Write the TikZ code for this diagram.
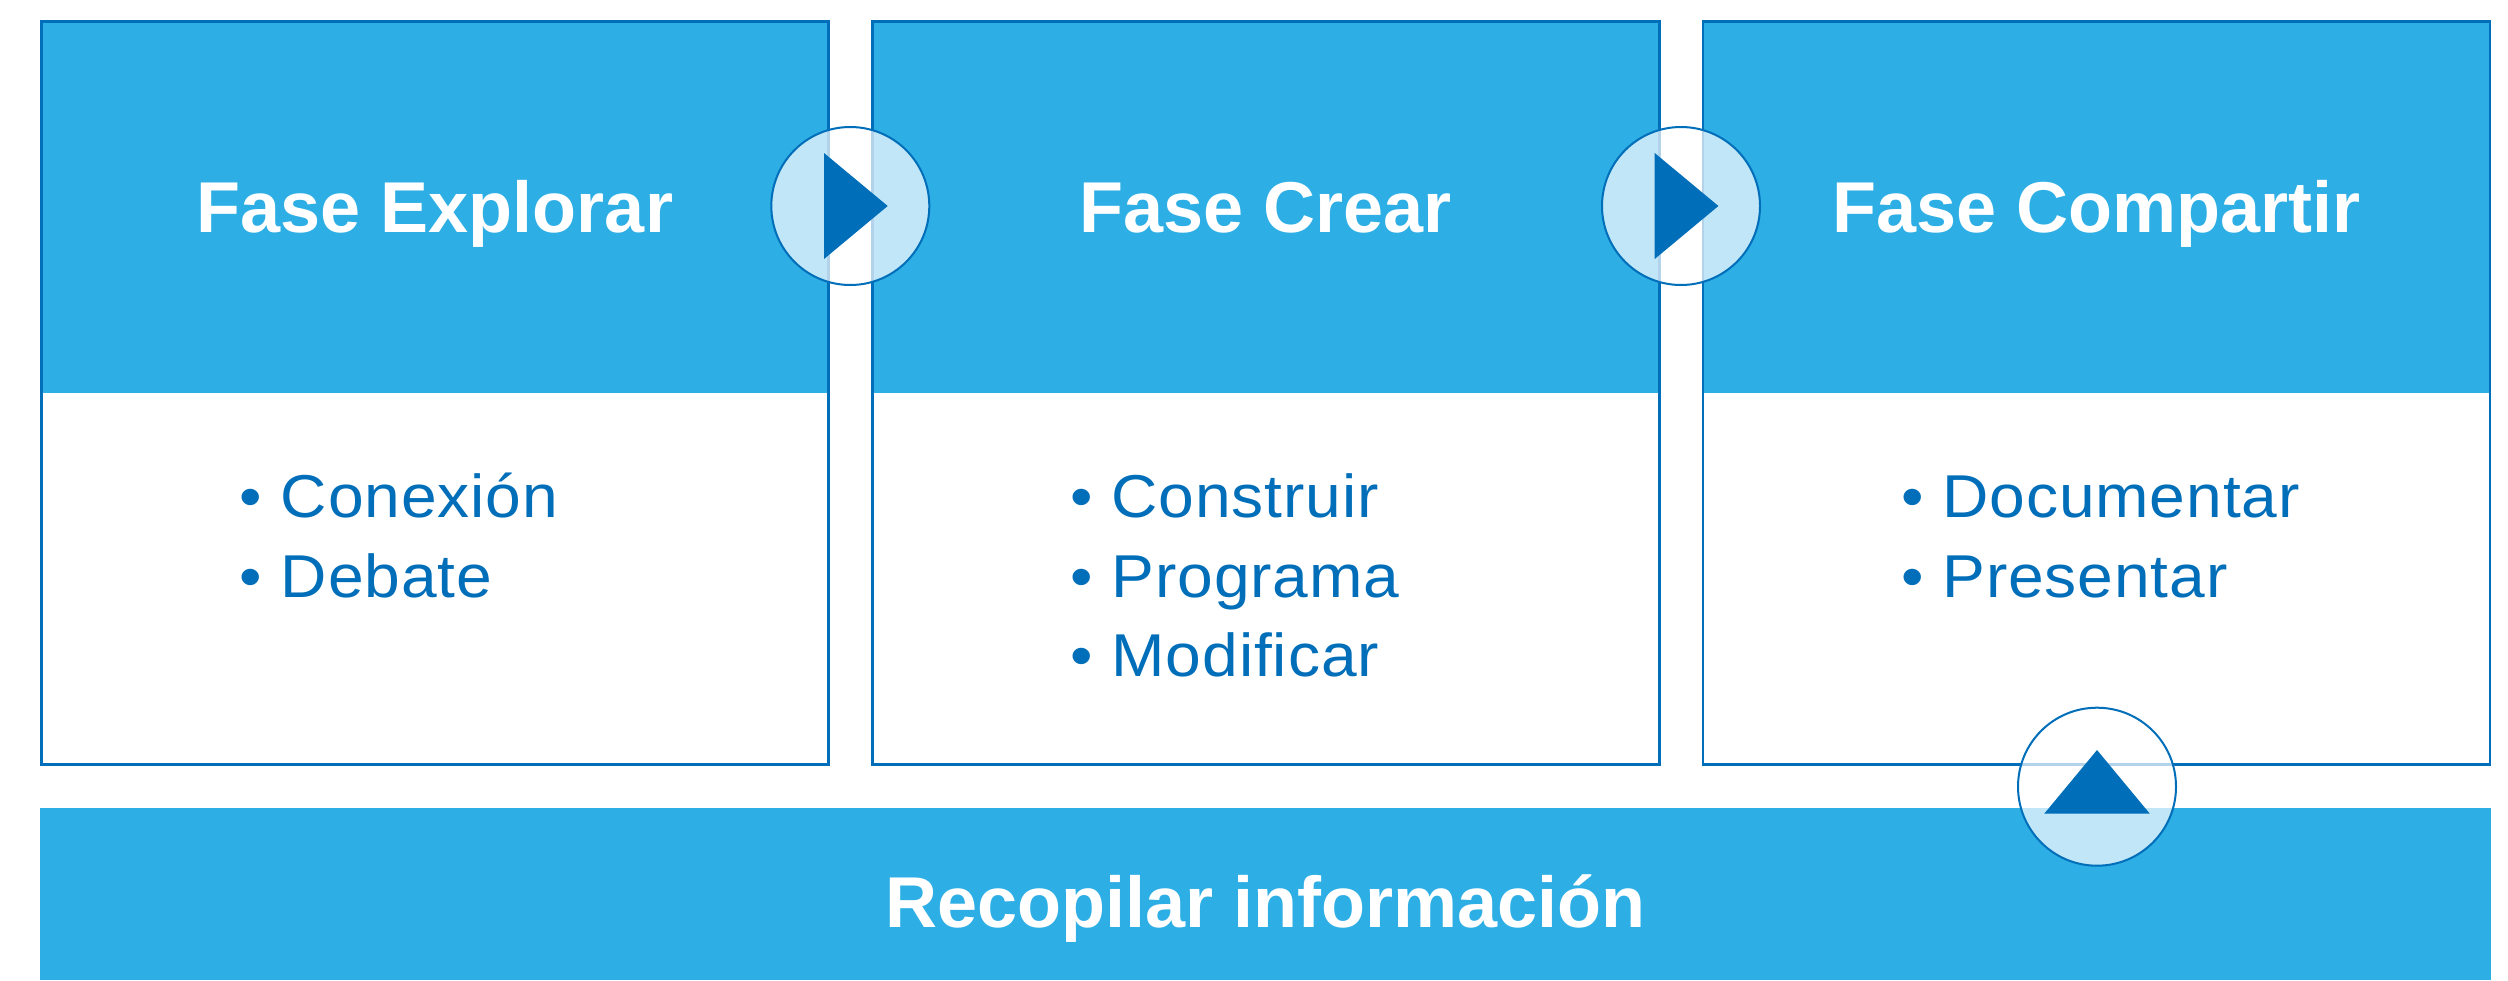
\documentclass[tikz,border=0pt]{standalone}
\usepackage{fontspec}
\setmainfont{Liberation Sans}
\newfontfamily\bodyfont{Liberation Sans}[FakeStretch=1.06, LetterSpace=1.5]
\definecolor{lblue}{RGB}{45,174,229}
\definecolor{dblue}{RGB}{0,110,185}
\tikzset{
  phasebox/.style={rectangle, draw=dblue, line width=2.7pt, fill=white, inner sep=0pt, outer sep=0pt, minimum width=787pt, minimum height=743pt, anchor=north west},
  headbox/.style={rectangle, fill=lblue, inner sep=0pt, outer sep=0pt, minimum width=787pt, minimum height=371.5pt, anchor=north west},
  bottombar/.style={rectangle, fill=lblue, inner sep=0pt, outer sep=0pt, minimum width=2451pt, minimum height=172pt, anchor=north west},
  titletext/.style={text=white, inner sep=0pt, anchor=base, font=\fontsize{72pt}{86pt}\selectfont\bfseries},
  itemtext/.style={text=dblue, inner sep=0pt, anchor=base west, font=\bodyfont\fontsize{60.5pt}{72pt}\selectfont},
  flowcirc/.style={circle, minimum size=158pt, inner sep=0pt, fill=white, fill opacity=0.7, draw=dblue, line width=2pt},
  arrowtri/.style={fill=dblue}
}
\begin{document}
\begin{tikzpicture}[x=1pt,y=1pt]
\useasboundingbox (0,0) rectangle (2508,-980);
% boxes
\foreach \i/\x in {1/41.5,2/872.25,3/1703}{
  \node[phasebox] (b\i) at (\x,-21.5) {};
  \node[headbox] (h\i) at (\x,-21.5) {};
  \draw[dblue, line width=2.7pt] (b\i.north west) rectangle (b\i.south east);
}
% titles
\node[titletext] (t1) at (435,-232.5) {Fase Explorar};
\node[titletext] (t2) at (1265.75,-232.5) {Fase Crear};
\node[titletext] (t3) at (2096.5,-232.5) {Fase Compartir};
% items
\node[itemtext] (i11) at (239.5,-517.5) {• Conexión};
\node[itemtext] (i12) at (239.5,-597.2) {• Debate};
\node[itemtext] (i21) at (1070.25,-517.5) {• Construir};
\node[itemtext] (i22) at (1070.25,-597.2) {• Programa};
\node[itemtext] (i23) at (1070.25,-676.9) {• Modificar};
\node[itemtext] (i31) at (1901,-517.5) {• Documentar};
\node[itemtext] (i32) at (1901,-597.2) {• Presentar};
% bottom bar
\node[bottombar] (bar) at (40,-808) {};
\node[titletext] (tb) at (1265.5,-927) {Recopilar información};
% connector circles
\node[flowcirc] (c1) at (850.3,-206) {};
\node[flowcirc] (c2) at (1681,-206) {};
\node[flowcirc] (c3) at (2097,-786.7) {};
\fill[arrowtri, shift={(c1.center)}] (-26.3,53) -- (37.4,0) -- (-26.3,-53) -- cycle;
\fill[arrowtri, shift={(c2.center)}] (-26.3,53) -- (37.4,0) -- (-26.3,-53) -- cycle;
\fill[arrowtri, shift={(c3.center)}] (-52.8,-27) -- (0,36.7) -- (52.8,-27) -- cycle;
\end{tikzpicture}
\end{document}
